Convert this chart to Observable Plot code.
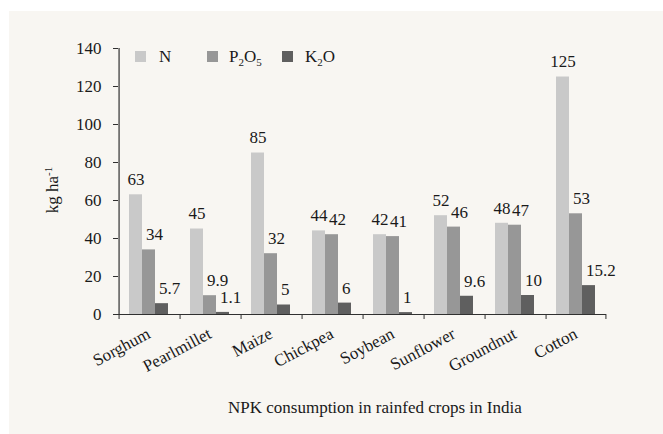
<!DOCTYPE html>
<html><head><meta charset="utf-8">
<script src="https://cdn.jsdelivr.net/npm/d3@7"></script>
<script src="https://cdn.jsdelivr.net/npm/@observablehq/plot@0.6"></script>
<style>
body{margin:0;background:#fff;}
#wrap{position:relative;width:663px;height:434px;overflow:hidden;font-family:"Liberation Serif","Times New Roman",serif;color:#1a1a1a;}
#bg{position:absolute;left:9px;top:11px;right:0;bottom:0;background:#f8f6f2;}
#chart{position:absolute;left:0;top:0;}
#chart svg, #chart svg text{font-family:"Liberation Serif","Times New Roman",serif !important;}
.sw{position:absolute;width:11px;height:11px;top:51px;}
.lt{position:absolute;top:48px;font-size:17px;line-height:17px;white-space:nowrap;}
.lt sub{font-size:11px;vertical-align:-4px;line-height:0;}
#ylab{position:absolute;left:52px;top:190px;transform:translate(-50%,-50%) rotate(-90deg);font-size:17px;white-space:nowrap;line-height:17px;}
#ylab sup{font-size:11px;vertical-align:6px;line-height:0;}
#xtitle{position:absolute;left:228px;top:399px;font-size:17px;line-height:17px;white-space:nowrap;}
</style></head><body>
<div id="wrap">
  <div id="bg"></div>
  <div id="chart"></div>
  <div id="legend"></div>
  <div id="ylab">kg ha<sup>-1</sup></div>
  <div id="xtitle">NPK consumption in rainfed crops in India</div>
</div>
<script>
const crops = ["Sorghum","Pearlmillet","Maize","Chickpea","Soybean","Sunflower","Groundnut","Cotton"];
const seriesKeys = ["N","P2O5","K2O"];
const seriesLabels = ["N","P<sub>2</sub>O<sub>5</sub>","K<sub>2</sub>O"];
const nValues = [63,45,85,44,42,52,48,125];
const pValues = [34,9.9,32,42,41,46,47,53];
const kValues = [5.7,1.1,5,6,1,9.6,10,15.2];
const yTicks = [0,20,40,60,80,100,120,140];
const colors = ["#c9c9c9","#979797","#5f5f5f"];

const rows = crops.flatMap((c,i)=>[
  {crop:c, series:"N", value:nValues[i]},
  {crop:c, series:"P2O5", value:pValues[i]},
  {crop:c, series:"K2O", value:kValues[i]}
]);

const W=663, H=434, ML=115, MR=55, MT=48, MB=120;
const po = 0.72;
const step = (W-ML-MR)/crops.length;
const bw = step/(seriesKeys.length + 2*po);
const edge = bw*(po+0.5);
const pxPerUnit = (H-MT-MB)/140;
const tickLen = 5/pxPerUnit;
const axisColor = "#303030";
const serif = "Liberation Serif";

const labelMark = (key, anchor, dx) => Plot.text(rows.filter(d=>d.series===key), {
  fx:"crop", x:"series", y:"value", text:d=>String(d.value),
  textAnchor:anchor, dx, dy:-15, fill:"#1a1a1a", fontFamily:serif, fontSize:17
});

const chart = Plot.plot({
  width:W, height:H, marginLeft:ML, marginRight:MR, marginTop:MT, marginBottom:MB,
  style:{background:"transparent", fontFamily:serif, fontSize:"17px", color:"#1a1a1a", overflow:"visible"},
  fx:{domain:crops, padding:0, label:null},
  x:{domain:seriesKeys, paddingInner:0, paddingOuter:po, axis:null},
  y:{domain:[0,140], axis:null},
  color:{domain:seriesKeys, range:colors},
  marks:[
    Plot.barY(rows, {fx:"crop", x:"series", y:"value", fill:"series"}),
    Plot.ruleY([0], {stroke:axisColor, strokeWidth:1.2}),
    Plot.ruleX([crops[0]], {fx:d=>d, x:()=>seriesKeys[0], y1:0, y2:140, dx:-edge, stroke:axisColor, strokeWidth:1.2}),
    Plot.ruleX(crops, {fx:d=>d, x:()=>seriesKeys[0], y1:0, y2:-tickLen, dx:-edge, stroke:axisColor}),
    Plot.ruleX([crops[crops.length-1]], {fx:d=>d, x:()=>seriesKeys[2], y1:0, y2:-tickLen, dx:edge, stroke:axisColor}),
    Plot.axisY({ticks:yTicks, tickSize:5, tickPadding:12, label:null, stroke:axisColor, fill:"#1a1a1a", fontFamily:serif, fontSize:17}),
    Plot.axisFx({anchor:"bottom", tickSize:0, tickPadding:18, tickRotate:-28, label:null, fill:"#1a1a1a", fontFamily:serif, fontSize:17}),
    labelMark("N","middle",0),
    labelMark("P2O5","start",-3),
    labelMark("K2O","start",-3)
  ]
});
document.getElementById("chart").appendChild(chart);

// legend
const legend = document.getElementById("legend");
const swX = [135,207,282];
const txX = [159,229,305];
seriesKeys.forEach((k,i)=>{
  const s = document.createElement("div");
  s.className="sw"; s.style.left=swX[i]+"px"; s.style.background=colors[i];
  legend.appendChild(s);
  const t = document.createElement("div");
  t.className="lt"; t.style.left=txX[i]+"px"; t.innerHTML=seriesLabels[i];
  legend.appendChild(t);
});
</script>
</body></html>
